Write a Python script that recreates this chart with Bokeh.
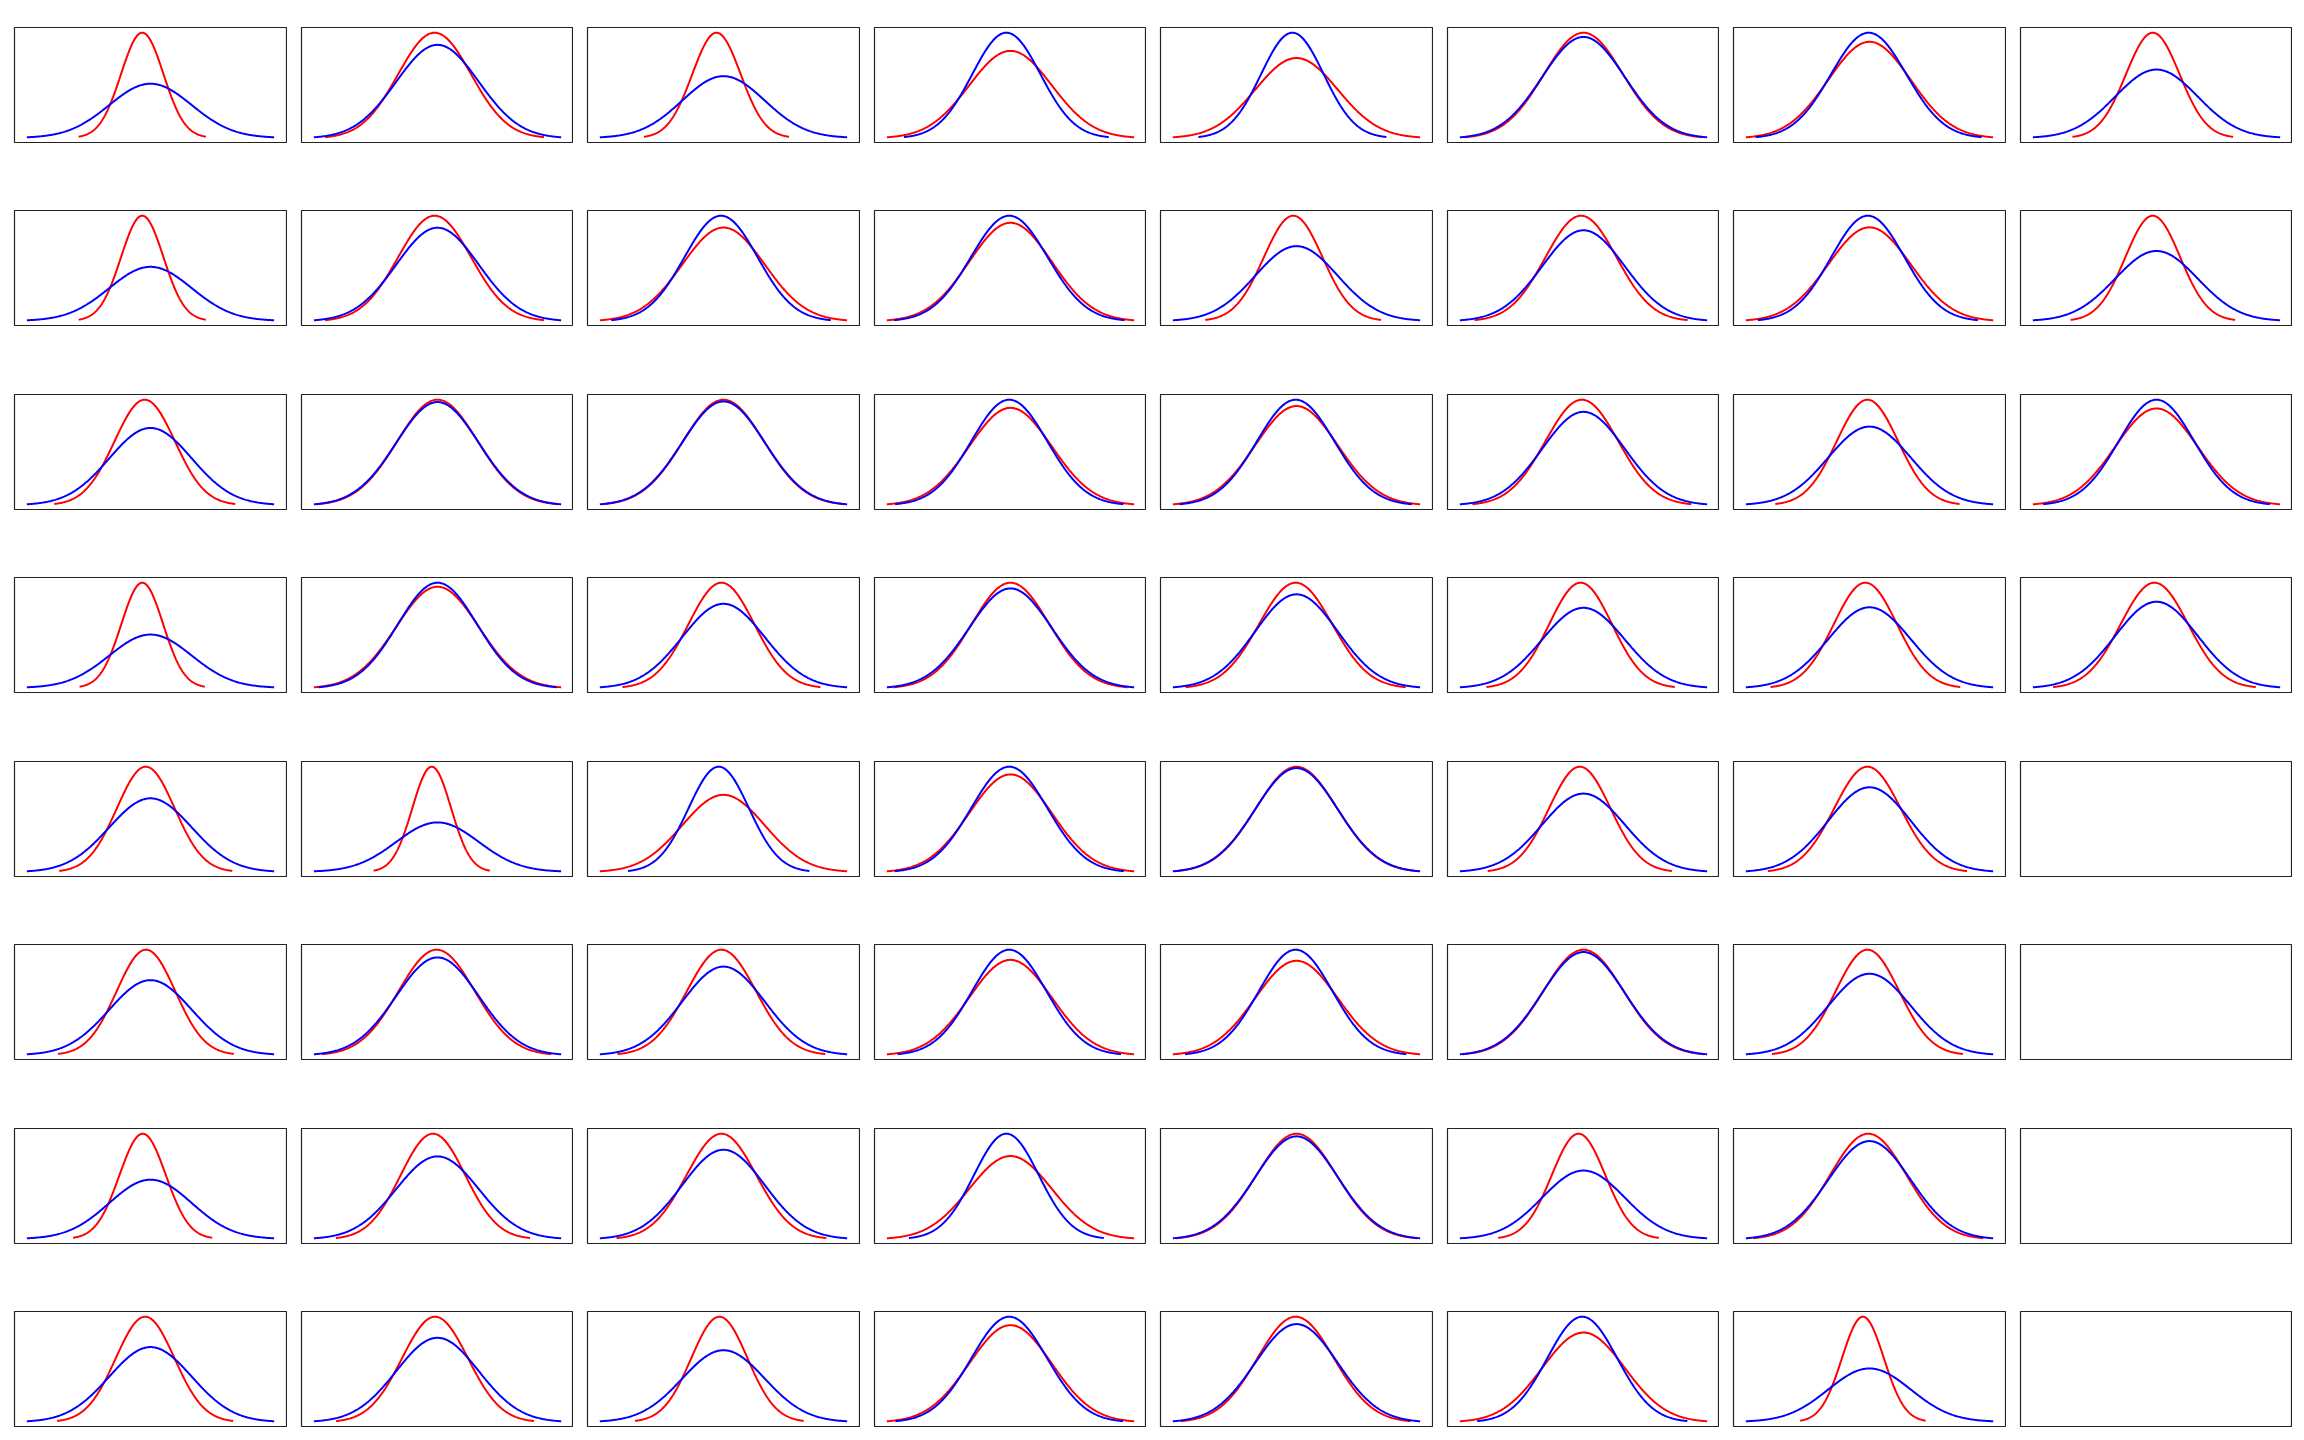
import numpy as np
from bokeh.plotting import figure
from bokeh.layouts import column, row
from bokeh.models import Range1d
from bokeh.embed import file_html
from bokeh.resources import INLINE

# 60 panels, filled column by column (8 rows per column); the grid is 8 x 8
# Each panel: red normal curve vs blue normal curve (mean, standard deviation)
red_mean = [
    -0.20, -0.20, -0.14, -0.20, -0.115, -0.11, -0.19, -0.13,   # column 1
    -0.07, -0.07, 0.00, 0.00, -0.14, -0.02, -0.11, -0.06,      # column 2
    -0.17, 0.06, 0.00, -0.05, 0.115, -0.05, -0.05, -0.10,      # column 3
    0.10, 0.03, 0.03, 0.00, 0.03, 0.03, 0.10, 0.03,            # column 4
    0.10, -0.08, 0.02, -0.02, 0.00, 0.02, 0.00, -0.02,         # column 5
    0.00, -0.06, -0.04, -0.07, -0.09, 0.00, -0.12, 0.03,       # column 6
    0.02, 0.04, -0.05, -0.10, -0.05, -0.05, -0.03, -0.16,      # column 7
    -0.09, -0.09, 0.00, -0.05,                                 # column 8
]
red_sd = [
    0.515, 0.514, 0.732, 0.507, 0.700, 0.711, 0.563, 0.712,
    0.885, 0.886, 0.978, 1.000, 0.470, 0.927, 0.785, 0.800,
    0.587, 1.000, 0.984, 0.800, 1.000, 0.840, 0.848, 0.682,
    1.000, 1.000, 1.000, 0.946, 1.000, 1.000, 1.000, 1.000,
    1.000, 0.711, 1.000, 0.890, 0.987, 1.000, 0.975, 0.930,
    0.960, 0.862, 0.885, 0.762, 0.745, 0.978, 0.650, 1.000,
    1.000, 1.000, 0.745, 0.767, 0.805, 0.772, 0.930, 0.508,
    0.650, 0.665, 1.000, 0.820,
]
blue_mean = [0.0] * 60
blue_sd = [
    1.000, 1.000, 1.000, 1.000, 1.000, 1.000, 1.000, 1.000,
    1.000, 1.000, 1.000, 0.962, 1.000, 1.000, 1.000, 1.000,
    1.000, 0.888, 1.000, 1.000, 0.733, 1.000, 1.000, 1.000,
    0.828, 0.933, 0.923, 1.000, 0.927, 0.904, 0.788, 0.920,
    0.760, 1.000, 0.940, 1.000, 1.000, 0.895, 1.000, 1.000,
    1.000, 1.000, 1.000, 1.000, 1.000, 1.000, 1.000, 0.850,
    0.914, 0.890, 1.000, 1.000, 1.000, 1.000, 1.000, 1.000,
    1.000, 1.000, 0.917, 1.000,
]

N_ROWS, N_COLS = 8, 8
col_widths = [287, 286, 287, 286, 287, 286, 287, 286]
row_heights = [183, 184, 183, 184, 183, 184, 183, 152]
FRAME_W, FRAME_H = 272, 115
LEFT, TOP = 14, 27


def normal_curve(mu, sd):
    x = np.linspace(mu - 3 * sd, mu + 3 * sd, 300)
    y = np.exp(-0.5 * ((x - mu) / sd) ** 2) / (sd * np.sqrt(2 * np.pi))
    return x, y


def make_fig(idx, r, c):
    w, h = col_widths[c], row_heights[r]
    kw = dict(width=w, height=h, output_backend="svg", toolbar_location=None,
              tools="", x_axis_location=None, y_axis_location=None,
              min_border_left=LEFT, min_border_right=w - LEFT - FRAME_W,
              min_border_top=TOP, min_border_bottom=h - TOP - FRAME_H)
    if idx is None:
        p = figure(x_range=Range1d(0, 1), y_range=Range1d(0, 1), **kw)
    else:
        xr, yr = normal_curve(red_mean[idx], red_sd[idx])
        xb, yb = normal_curve(blue_mean[idx], blue_sd[idx])
        x0 = min(xr.min(), xb.min()); x1 = max(xr.max(), xb.max())
        y0 = min(yr.min(), yb.min()); y1 = max(yr.max(), yb.max())
        dx = (x1 - x0) * 0.05; dy = (y1 - y0) * 0.05
        p = figure(x_range=Range1d(x0 - dx, x1 + dx),
                   y_range=Range1d(y0 - dy, y1 + dy), **kw)
        p.line(xr, yr, line_color="red", line_width=2)
        p.line(xb, yb, line_color="blue", line_width=2)
    p.grid.visible = False
    p.outline_line_color = "#222222"
    p.outline_line_width = 1.2
    p.background_fill_color = "white"
    p.border_fill_color = "white"
    return p


rows = []
for r in range(N_ROWS):
    figs = []
    for c in range(N_COLS):
        idx = c * N_ROWS + r
        figs.append(make_fig(idx if idx < len(red_mean) else None, r, c))
    rows.append(row(*figs, spacing=0))

layout = column(*rows, spacing=0)
open("out.html", "w").write(file_html(layout, INLINE))
